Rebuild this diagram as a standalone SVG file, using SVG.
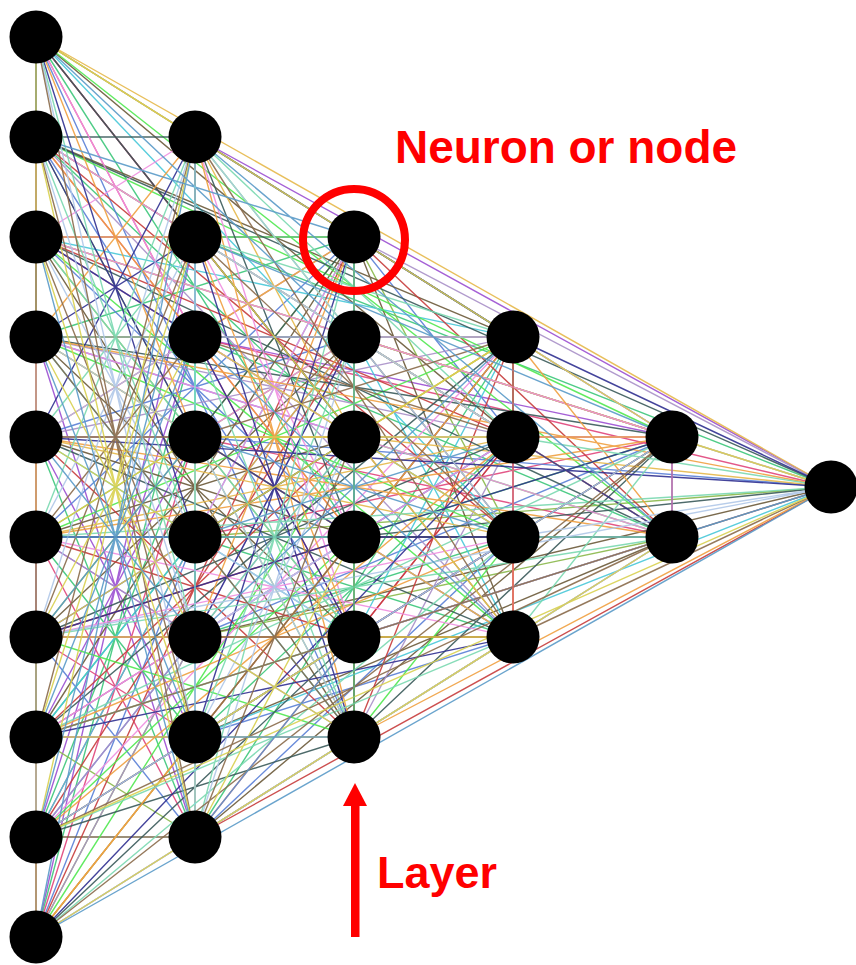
<svg xmlns="http://www.w3.org/2000/svg" width="856" height="965" viewBox="0 0 856 965">
<style>
  .edge { fill: none; stroke-width: 1.4; stroke-opacity: 0.9; }
  .node circle { fill: #000; }
  .label { font-family: "Liberation Sans", Arial, sans-serif; font-weight: bold; fill: #ff0000; }
</style>
<rect width="856" height="965" fill="#fff"/>
<!-- fully connected edges between every pair of neurons, grouped by colour -->
<g id="connectors">
<path class="edge" stroke="#9b4fd1" d="M36 37 354 437M36 137 354 337M36 237 354 237M36 337 195 837M36 437 195 737M36 537 195 637M36 637 195 537M36 737 195 437M36 837 195 337M36 937 195 237M195 137 831 487M195 237 672 537M195 337 672 437M195 437 513 637M195 537 513 537M195 637 513 437M195 737 513 337M195 837 354 737M354 237 354 637M354 337 354 537"/>
<path class="edge" stroke="#3cc77a" d="M36 37 36 137M36 37 354 537M36 137 354 437M36 237 354 337M36 337 354 237M36 437 195 837M36 537 195 737M36 637 195 637M36 737 195 537M36 837 195 437M36 937 195 337M195 137 195 237M195 237 831 487M195 337 672 537M195 437 672 437M195 537 513 637M195 637 513 537M195 737 513 437M195 837 513 337M354 237 354 737M354 337 354 637M354 437 354 537"/>
<path class="edge" stroke="#e0457b" d="M36 37 36 237M36 37 354 637M36 137 354 537M36 237 354 437M36 337 354 337M36 437 354 237M36 537 195 837M36 637 195 737M36 737 195 637M36 837 195 537M36 937 195 437M195 137 195 337M195 337 831 487M195 437 672 537M195 537 672 437M195 637 513 637M195 737 513 537M195 837 513 437M354 237 513 337M354 337 354 737M354 437 354 637"/>
<path class="edge" stroke="#5a7fd6" d="M36 37 36 337M36 137 36 237M36 37 354 737M36 137 354 637M36 237 354 537M36 337 354 437M36 437 354 337M36 537 354 237M36 637 195 837M36 737 195 737M36 837 195 637M36 937 195 537M195 137 195 437M195 237 195 337M195 437 831 487M195 537 672 537M195 637 672 437M195 737 513 637M195 837 513 537M354 237 513 437M354 337 513 337M354 437 354 737M354 537 354 637"/>
<path class="edge" stroke="#8ab84a" d="M36 37 36 437M36 137 36 337M36 37 513 337M36 137 354 737M36 237 354 637M36 337 354 537M36 437 354 437M36 537 354 337M36 637 354 237M36 737 195 837M36 837 195 737M36 937 195 637M195 137 195 537M195 237 195 437M195 537 831 487M195 637 672 537M195 737 672 437M195 837 513 637M354 237 513 537M354 337 513 437M354 437 513 337M354 537 354 737"/>
<path class="edge" stroke="#6b5a3a" d="M36 37 36 537M36 137 36 437M36 237 36 337M36 37 513 437M36 137 513 337M36 237 354 737M36 337 354 637M36 437 354 537M36 537 354 437M36 637 354 337M36 737 354 237M36 837 195 837M36 937 195 737M195 137 195 637M195 237 195 537M195 337 195 437M195 637 831 487M195 737 672 537M195 837 672 437M354 237 513 637M354 337 513 537M354 437 513 437M354 537 513 337M354 637 354 737"/>
<path class="edge" stroke="#48c8d8" d="M36 37 36 637M36 137 36 537M36 237 36 437M36 37 513 537M36 137 513 437M36 237 513 337M36 337 354 737M36 437 354 637M36 537 354 537M36 637 354 437M36 737 354 337M36 837 354 237M36 937 195 837M195 137 195 737M195 237 195 637M195 337 195 537M195 737 831 487M195 837 672 537M354 237 672 437M354 337 513 637M354 437 513 537M354 537 513 437M354 637 513 337"/>
<path class="edge" stroke="#c73c3c" d="M36 37 36 737M36 137 36 637M36 237 36 537M36 337 36 437M36 37 513 637M36 137 513 537M36 237 513 437M36 337 513 337M36 437 354 737M36 537 354 637M36 637 354 537M36 737 354 437M36 837 354 337M36 937 354 237M195 137 195 837M195 237 195 737M195 337 195 637M195 437 195 537M195 837 831 487M354 237 672 537M354 337 672 437M354 437 513 637M354 537 513 537M354 637 513 437M354 737 513 337"/>
<path class="edge" stroke="#a890c8" d="M36 37 36 837M36 137 36 737M36 237 36 637M36 337 36 537M36 37 672 437M36 137 513 637M36 237 513 537M36 337 513 437M36 437 513 337M36 537 354 737M36 637 354 637M36 737 354 537M36 837 354 437M36 937 354 337M195 137 354 237M195 237 195 837M195 337 195 737M195 437 195 637M354 237 831 487M354 337 672 537M354 437 672 437M354 537 513 637M354 637 513 537M354 737 513 437"/>
<path class="edge" stroke="#50e850" d="M36 37 36 937M36 137 36 837M36 237 36 737M36 337 36 637M36 437 36 537M36 37 672 537M36 137 672 437M36 237 513 637M36 337 513 537M36 437 513 437M36 537 513 337M36 637 354 737M36 737 354 637M36 837 354 537M36 937 354 437M195 137 354 337M195 237 354 237M195 337 195 837M195 437 195 737M195 537 195 637M354 337 831 487M354 437 672 537M354 537 672 437M354 637 513 637M354 737 513 537M513 337 513 437"/>
<path class="edge" stroke="#e6b84a" d="M36 37 195 137M36 137 36 937M36 237 36 837M36 337 36 737M36 437 36 637M36 37 831 487M36 137 672 537M36 237 672 437M36 337 513 637M36 437 513 537M36 537 513 437M36 637 513 337M36 737 354 737M36 837 354 637M36 937 354 537M195 137 354 437M195 237 354 337M195 337 354 237M195 437 195 837M195 537 195 737M354 437 831 487M354 537 672 537M354 637 672 437M354 737 513 637M513 337 513 537"/>
<path class="edge" stroke="#3a5a5a" d="M36 37 195 237M36 137 195 137M36 237 36 937M36 337 36 837M36 437 36 737M36 537 36 637M36 137 831 487M36 237 672 537M36 337 672 437M36 437 513 637M36 537 513 537M36 637 513 437M36 737 513 337M36 837 354 737M36 937 354 637M195 137 354 537M195 237 354 437M195 337 354 337M195 437 354 237M195 537 195 837M195 637 195 737M354 537 831 487M354 637 672 537M354 737 672 437M513 337 513 637M513 437 513 537"/>
<path class="edge" stroke="#f08ee0" d="M36 37 195 337M36 137 195 237M36 237 195 137M36 337 36 937M36 437 36 837M36 537 36 737M36 237 831 487M36 337 672 537M36 437 672 437M36 537 513 637M36 637 513 537M36 737 513 437M36 837 513 337M36 937 354 737M195 137 354 637M195 237 354 537M195 337 354 437M195 437 354 337M195 537 354 237M195 637 195 837M354 637 831 487M354 737 672 537M513 337 672 437M513 437 513 637"/>
<path class="edge" stroke="#f0a040" d="M36 37 195 437M36 137 195 337M36 237 195 237M36 337 195 137M36 437 36 937M36 537 36 837M36 637 36 737M36 337 831 487M36 437 672 537M36 537 672 437M36 637 513 637M36 737 513 537M36 837 513 437M36 937 513 337M195 137 354 737M195 237 354 637M195 337 354 537M195 437 354 437M195 537 354 337M195 637 354 237M195 737 195 837M354 737 831 487M513 337 672 537M513 437 672 437M513 537 513 637"/>
<path class="edge" stroke="#303090" d="M36 37 195 537M36 137 195 437M36 237 195 337M36 337 195 237M36 437 195 137M36 537 36 937M36 637 36 837M36 437 831 487M36 537 672 537M36 637 672 437M36 737 513 637M36 837 513 537M36 937 513 437M195 137 513 337M195 237 354 737M195 337 354 637M195 437 354 537M195 537 354 437M195 637 354 337M195 737 354 237M513 337 831 487M513 437 672 537M513 537 672 437"/>
<path class="edge" stroke="#7ad8b0" d="M36 37 195 637M36 137 195 537M36 237 195 437M36 337 195 337M36 437 195 237M36 537 195 137M36 637 36 937M36 737 36 837M36 537 831 487M36 637 672 537M36 737 672 437M36 837 513 637M36 937 513 537M195 137 513 437M195 237 513 337M195 337 354 737M195 437 354 637M195 537 354 537M195 637 354 437M195 737 354 337M195 837 354 237M513 437 831 487M513 537 672 537M513 637 672 437"/>
<path class="edge" stroke="#b0c8e8" d="M36 37 195 737M36 137 195 637M36 237 195 537M36 337 195 437M36 437 195 337M36 537 195 237M36 637 195 137M36 737 36 937M36 637 831 487M36 737 672 537M36 837 672 437M36 937 513 637M195 137 513 537M195 237 513 437M195 337 513 337M195 437 354 737M195 537 354 637M195 637 354 537M195 737 354 437M195 837 354 337M513 537 831 487M513 637 672 537"/>
<path class="edge" stroke="#8a6a4a" d="M36 37 195 837M36 137 195 737M36 237 195 637M36 337 195 537M36 437 195 437M36 537 195 337M36 637 195 237M36 737 195 137M36 837 36 937M36 737 831 487M36 837 672 537M36 937 672 437M195 137 513 637M195 237 513 537M195 337 513 437M195 437 513 337M195 537 354 737M195 637 354 637M195 737 354 537M195 837 354 437M354 237 354 337M513 637 831 487M672 437 672 537"/>
<path class="edge" stroke="#d8d050" d="M36 37 354 237M36 137 195 837M36 237 195 737M36 337 195 637M36 437 195 537M36 537 195 437M36 637 195 337M36 737 195 237M36 837 195 137M36 837 831 487M36 937 672 537M195 137 672 437M195 237 513 637M195 337 513 537M195 437 513 437M195 537 513 337M195 637 354 737M195 737 354 637M195 837 354 537M354 237 354 437M672 437 831 487"/>
<path class="edge" stroke="#5a9ac8" d="M36 37 354 337M36 137 354 237M36 237 195 837M36 337 195 737M36 437 195 637M36 537 195 537M36 637 195 437M36 737 195 337M36 837 195 237M36 937 195 137M36 937 831 487M195 137 672 537M195 237 672 437M195 337 513 637M195 437 513 537M195 537 513 437M195 637 513 337M195 737 354 737M195 837 354 637M354 237 354 537M354 337 354 437M672 537 831 487"/>
<!-- vertical links within each column, drawn last so one colour shows per column -->
<path class="edge" stroke="#c8a070" d="M36 37 36 937"/>
<path class="edge" stroke="#80e0f0" d="M195 137 195 837"/>
<path class="edge" stroke="#60c080" d="M354 237 354 737"/>
<path class="edge" stroke="#e06060" d="M513 337 513 637"/>
<path class="edge" stroke="#c070d0" d="M672 437 672 537"/>
</g>
<!-- neurons, one column per layer -->
<g id="layer-0" class="node">
<circle cx="36" cy="37" r="26.5"/><circle cx="36" cy="137" r="26.5"/><circle cx="36" cy="237" r="26.5"/><circle cx="36" cy="337" r="26.5"/><circle cx="36" cy="437" r="26.5"/><circle cx="36" cy="537" r="26.5"/><circle cx="36" cy="637" r="26.5"/><circle cx="36" cy="737" r="26.5"/><circle cx="36" cy="837" r="26.5"/><circle cx="36" cy="937" r="26.5"/>
</g>
<g id="layer-1" class="node">
<circle cx="195" cy="137" r="26.5"/><circle cx="195" cy="237" r="26.5"/><circle cx="195" cy="337" r="26.5"/><circle cx="195" cy="437" r="26.5"/><circle cx="195" cy="537" r="26.5"/><circle cx="195" cy="637" r="26.5"/><circle cx="195" cy="737" r="26.5"/><circle cx="195" cy="837" r="26.5"/>
</g>
<g id="layer-2" class="node">
<circle cx="354" cy="237" r="26.5"/><circle cx="354" cy="337" r="26.5"/><circle cx="354" cy="437" r="26.5"/><circle cx="354" cy="537" r="26.5"/><circle cx="354" cy="637" r="26.5"/><circle cx="354" cy="737" r="26.5"/>
</g>
<g id="layer-3" class="node">
<circle cx="513" cy="337" r="26.5"/><circle cx="513" cy="437" r="26.5"/><circle cx="513" cy="537" r="26.5"/><circle cx="513" cy="637" r="26.5"/>
</g>
<g id="layer-4" class="node">
<circle cx="672" cy="437" r="26.5"/><circle cx="672" cy="537" r="26.5"/>
</g>
<g id="layer-5" class="node">
<circle cx="831" cy="487" r="26.5"/>
</g>
<!-- annotations -->
<g id="neuron-callout">
<circle cx="354" cy="240" r="51" fill="none" stroke="#ff0000" stroke-width="8"/>
<text class="label" x="395" y="163" font-size="46" textLength="342" lengthAdjust="spacingAndGlyphs">Neuron or node</text>
</g>
<g id="layer-callout" fill="#ff0000">
<rect x="351" y="804" width="8.5" height="133"/>
<polygon points="355,783 367,806 343,806"/>
<text class="label" x="377" y="888" font-size="44" textLength="120" lengthAdjust="spacingAndGlyphs">Layer</text>
</g>
</svg>
